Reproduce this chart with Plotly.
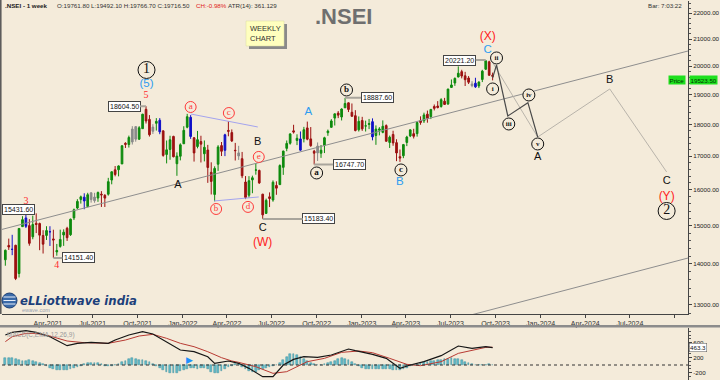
import plotly.graph_objects as go
import numpy as np
import pandas as pd

# ---------------- data (weekly .NSEI, week starting Monday) ----------------
first_week = "2021-01-04"
opens = [14104,14474,14371,14477,13759,14973,15209,15000,14702,15064,15056,14736,14737,14837,14644,14306,14449,14748,14928,14756,15211,15484,15726,15791,15525,15915,15794,15766,15877,15842,15875,16286,16589,16592,16765,17400,17363,17443,17932,17531,17867,18500,18168,17783,18041,18141,17796,17055,17210,17619,16773,17000,
         17387,17913,18236,17575,17302,17456,17076,17192,16515,15868,16757,17329,17182,17809,17741,17183,17009,16925,16227,15846,16290,16578,16570,15875,15335,15800,15710,16127,16152,16662,17243,17402,17797,17490,17188,17546,17891,17540,17156,17102,17094,17336,17737,17910,18211,18376,18247,18552,18719,18402,18289,17831,
         18132,17953,18005,18094,17649,17819,17748,17965,17428,17681,17422,16986,17016,17428,17634,17706,17707,18125,18120,18339,18258,18594,18612,18595,18774,18682,19246,19400,19612,19801,19654,19576,19365,19393,19298,19525,19890,20156,19678]
highs = [14367,14653,14754,14491,14932,15257,15431.6,15176,15273,15336,15082,14878,14984,14984,14890,14513,14891,14900,14968,15190,15469,15733,15835,15901,15915,15925,15915,15952,15962,15877,16350,16543,16702,16722,17340,17436,17644,17947,17944,17948,18351,18604.5,18310,18012,18210,18210,17806,17489,17640,17640,17119,17400,
         17945,18350,18309,17599,17794,17640,17490,17352,16815,16694,17344,17442,17703,18114,17842,17414,17322,17132,16403,16400,16415,16794,16594,15886,15749,15927,16275,16248,16752,17172,17490,17719,17992,17686,17777,17925,18096,17919,17196,17428,17348,17607,17838,18176,18362,18443,18534,18887.6,18734,18697,18473,18265,
         18252,18127,18183,18202,17972,17916,18135,18005,17645,17800,17529,17207,17381,17638,17842,17863,18089,18267,18389,18459,18508,18663,18777,18876,18887,19202,19524,19595,19991,19868,19795,19645,19465,19584,19458,19868,20221.2,20196,19767]
lows = [13954,14357,14222,13597,13661,14969,14935,14467,14636,14800,14350,14264,14617,14460,14151.4,14208,14416,14462,14591,14725,15152,15450,15608,15451,15506,15635,15632,15658,15514,15513,15834,16161,16395,16395,16764,17255,17269,17362,17452,17506,17864,18034,17614,17697,17806,17689,16985,16782,16891,16966,16410,16873,
        17384,17879,17541,16837,17244,16810,16843,16203,15867,15671,16556,17006,17004,17623,17443,16869,16888,16341,15735,15775,15903,16444,16172,15183.4,15330,15511,15661,15858,16142,16438,17154,17359,17710,17345,17167,17429,17497,17291,16747.7,16855,16950,17098,17637,17900,17969,18210,18133,18545,18410,18255,17779,17775,
        17796,17775,17853,17494,17353,17652,17719,17456,17255,17324,16850,16828,16941,17313,17597,17553,17612,17993,18052,18060,18178,18464,18531,18556,18647,18647,19234,19301,19600,19563,19296,19365,19253,19230,19224,19433,19865,19657,19492]
closes = [14347,14433,14372,13635,14924,15163,14982,14529,15031,15031,14744,14507,14867,14834,14617,14341,14631,14823,14677,15175,15435,15670,15799,15683,15860,15722,15690,15923,15856,15763,16238,16529,16450,16705,17324,17369,17585,17853,17532,17895,18339,18115,17672,17917,18103,17765,17026,17197,17512,16985,17004,17354,
          17813,18256,17617,17102,17516,17375,17276,16658,16245,16630,17287,17153,17670,17784,17476,17172,17103,16411,15782,16266,16352,16584,16202,15294,15699,15752,16221,16049,16719,17158,17398,17698,17758,17559,17539,17833,17531,17327,17094,17315,17186,17576,17787,18117,18350,18308,18512,18697,18497,18270,17807,18105,
          17860,17956,18028,17604,17854,17856,17944,17466,17594,17413,17100,16945,17360,17599,17828,17624,18065,18069,18315,18203,18499,18534,18563,18826,18665,19189,19332,19564,19745,19646,19517,19428,19310,19266,19435,19820,20192,19674,19638]
blue_weeks = ["2021-01-18","2021-02-15","2021-04-05","2021-06-14","2021-11-15","2022-01-17","2022-03-28","2022-08-29","2023-01-23","2023-08-21"]
gray_weeks = ["2021-06-28","2021-07-05","2021-09-20","2021-09-27","2021-11-01","2022-04-25","2022-10-03","2023-08-14"]

# MACD panel
macd_dates = ['2021-01-04','2021-01-18','2021-02-15','2021-03-08','2021-04-05','2021-05-10','2021-05-31','2021-06-28','2021-08-02','2021-08-16','2021-09-13','2021-10-11','2021-11-01','2021-11-22','2021-12-13','2021-12-27','2022-01-24','2022-02-21','2022-03-07','2022-04-04','2022-04-25','2022-05-16','2022-06-13','2022-07-04','2022-07-25','2022-08-15','2022-09-05','2022-10-03','2022-10-31','2022-12-05','2022-12-19','2023-01-23','2023-02-20','2023-03-20','2023-04-10','2023-05-08','2023-06-12','2023-07-17','2023-08-14','2023-09-11','2023-09-25']
macd_vals = [801,873,916,873,756,516,579,606,579,667,801,889,828,667,489,400,355,222,45,107,45,-89,-312,-312,0,151,222,205,267,427,382,285,178,-89,0,89,249,507,445,489,463]
signal_dates = ['2021-01-04','2021-01-18','2021-02-15','2021-03-08','2021-04-05','2021-05-10','2021-06-14','2021-08-02','2021-09-06','2021-10-04','2021-11-01','2021-11-29','2021-12-27','2022-01-24','2022-02-21','2022-03-21','2022-04-11','2022-04-25','2022-05-30','2022-07-04','2022-08-01','2022-09-12','2022-10-17','2022-11-21','2022-12-26','2023-01-23','2023-02-27','2023-04-03','2023-05-01','2023-06-12','2023-07-17','2023-08-28','2023-09-11','2023-09-25']
signal_vals = [623,756,845,845,774,641,596,579,667,774,819,712,579,489,355,196,107,71,-45,-222,-178,89,178,338,374,329,178,18,-18,89,311,445,471,475]
hist_vals = [187,200,187,160,134,107,107,134,107,80,53,27,
             -27,-67,-93,-120,-134,-134,-134,-107,-80,-40,-13,
             27,53,67,67,53,27,
             -13,-27,-13,0,
             40,80,120,160,179,160,134,134,120,80,40,
             -27,-80,-134,-174,-200,-214,-200,-160,-134,-93,-80,
             -80,-93,-80,-80,-107,
             -187,-214,-200,-160,-107,
             -53,-13,27,40,
             -53,-107,-147,-174,-174,-134,-93,-80,
             -53,-27,0,
             53,134,214,294,307,267,214,160,107,
             53,27,13,13,
             27,53,80,
             120,160,179,174,134,80,
             27,-27,
             -67,-93,-107,-107,-107,-93,-93,-93,-107,-120,-134,
             -134,-107,-67,
             -27,13,40,67,80,93,107,120,134,147,160,174,179,174,160,134,93,53,27,13,
             8,8,13,27,13]

# trend / channel lines and projected path (date, price)
upper_line_dates = ["2020-12-28", "2024-10-28"]
upper_line_vals = [14897, 20555]
lower_line_dates = ["2023-08-10", "2024-10-28"]
lower_line_vals = [12762, 14150]
tri_top_dates = ["2022-01-17", "2022-06-03"]
tri_top_vals = [18346, 17921]
tri_bot_dates = ["2022-03-06", "2022-06-05"]
tri_bot_vals = [15682, 15796]
sub_path_dates = ["2023-09-25", "2023-10-03", "2023-10-26", "2023-12-06", "2023-12-26"]
sub_path_vals = [19579, 20042, 18280, 18724, 17600]
proj_path_dates = ["2023-09-24", "2023-12-26", "2024-05-21", "2024-09-14"]
proj_path_vals = [20161, 17600, 19193, 16525]

# price call-outs
callout_dates = ["2021-10-18", "2021-02-15", "2021-04-12", "2022-06-13", "2022-09-26", "2022-11-28", "2023-09-11"]
callout_vals = [18604.50, 15431.60, 14151.40, 15183.40, 16747.70, 18887.60, 20221.20]

# wave labels
blk_txt = ["A", "B", "C", "A", "B", "C"]
blk_dates = ["2021-12-22", "2022-06-03", "2022-06-13", "2023-12-26", "2024-05-21", "2024-09-14"]
blk_vals = [16141, 17444, 14938, 16978, 19508, 16258]
blu_txt = ["(5)", "A", "B", "C"]
blu_dates = ["2021-10-19", "2022-09-14", "2023-03-20", "2023-09-15"]
blu_vals = [19367, 18414, 16229, 20591]
red_txt = ["(W)", "(X)", "(Y)"]
red_dates = ["2022-06-13", "2023-09-15", "2024-09-14"]
red_vals = [14537, 21080, 15796]
red_num_txt = ["3", "4", "5"]
red_num_dates = ["2021-02-15", "2021-04-19", "2021-10-18"]
red_num_vals = [15655, 13948, 18953]
redc_txt = ["a", "b", "c", "d", "e"]
redc_dates = ["2022-01-17", "2022-03-10", "2022-04-05", "2022-05-14", "2022-06-05"]
redc_vals = [18579, 15457, 18378, 15515, 16978]
blkc_txt = ["a", "b", "c"]
blkc_dates = ["2022-10-01", "2022-12-01", "2023-03-22"]
blkc_vals = [16495, 19158, 16584]
rom_txt = ["i", "ii", "iii", "iv", "v"]
rom_dates = ["2023-09-25", "2023-10-03", "2023-10-28", "2023-12-08", "2023-12-26"]
rom_vals = [19193, 20297, 18018, 18986, 17380]
big_txt = ["1", "2"]
big_dates = ["2021-10-19", "2024-09-14"]
big_vals = [19862, 15402]

last_price = 19523.50
macd_last = 463.3
yticks_main = [13000, 14000, 15000, 16000, 17000, 18000, 19000, 20000, 21000, 22000]
yticks_macd = [600, 200, -200]
xtick_dates = ["2021-04-01","2021-07-01","2021-10-01","2022-01-01","2022-04-01","2022-07-01","2022-10-01",
               "2023-01-01","2023-04-01","2023-07-01","2023-10-01","2024-01-01","2024-04-01","2024-07-01","2024-10-01"]
xtick_text = ["Apr-2021","Jul-2021","Oct-2021","Jan-2022","Apr-2022","Jul-2022","Oct-2022",
              "Jan-2023","Apr-2023","Jul-2023","Oct-2023","Jan-2024","Apr-2024","Jul-2024",""]

# ---------------- styling / layout ----------------
BG = "#f4ebda"
UP, DN = "#0d8a0d", "#9c1010"
W, H = 720, 380
ML, MR = 2, 32
PW = W - ML - MR
SANS = "Liberation Sans, Arial, sans-serif"
SERIF = "Liberation Serif, Times New Roman, serif"


def px(x):
    return (x - ML) / PW


def py(y):
    return (H - y) / H


dates = pd.date_range(first_week, periods=len(closes), freq="7D")
df = pd.DataFrame({"d": dates, "o": opens, "h": highs, "l": lows, "c": closes})
ds = df["d"].dt.strftime("%Y-%m-%d")
is_blue = ds.isin(blue_weeks)
is_gray = ds.isin(gray_weeks)
is_norm = ~(is_blue | is_gray)

fig = go.Figure()


def candles(sub, up, dn):
    return go.Candlestick(
        x=sub["d"], open=sub["o"], high=sub["h"], low=sub["l"], close=sub["c"],
        increasing=dict(line=dict(color=up, width=1), fillcolor=up),
        decreasing=dict(line=dict(color=dn, width=1), fillcolor=dn),
        whiskerwidth=0, showlegend=False, hoverinfo="skip", xaxis="x", yaxis="y")


def line(xs, ys, color, width, xa="x", ya="y"):
    return go.Scatter(x=xs, y=ys, mode="lines", line=dict(color=color, width=width),
                      showlegend=False, hoverinfo="skip", xaxis=xa, yaxis=ya)


# trend lines first (under candles)
fig.add_trace(line(upper_line_dates, upper_line_vals, "#8e8e8e", 1))
fig.add_trace(line(lower_line_dates, lower_line_vals, "#8e8e8e", 1))
fig.add_trace(line(tri_top_dates, tri_top_vals, "#a3a3ee", 1))
fig.add_trace(line(tri_bot_dates, tri_bot_vals, "#a3a3ee", 1))
fig.add_trace(line(proj_path_dates, proj_path_vals, "#b9b4ab", 1))
fig.add_trace(line(sub_path_dates, sub_path_vals, "#4a4a4a", 1.2))

fig.add_trace(candles(df[is_norm], UP, DN))
fig.add_trace(candles(df[is_blue], "#1010c8", "#1010c8"))
fig.add_trace(candles(df[is_gray], "#8a8a8a", "#8a8a8a"))

# MACD panel
fig.add_trace(go.Bar(x=dates, y=hist_vals, width=3.6 * 86400000, marker=dict(color="#62bccb", line=dict(color="#3b8c9b", width=0.5)),
                     showlegend=False, hoverinfo="skip", xaxis="x2", yaxis="y2"))
fig.add_trace(line(signal_dates, signal_vals, "#b83a32", 1, "x2", "y2"))
fig.add_trace(line(macd_dates, macd_vals, "#151515", 1.2, "x2", "y2"))


def text_tr(xs, ys, txt, color, size, family):
    return go.Scatter(x=xs, y=ys, mode="text", text=txt, textposition="middle center",
                      textfont=dict(color=color, size=size, family=family), cliponaxis=False,
                      showlegend=False, hoverinfo="skip", xaxis="x", yaxis="y")


def circ_tr(xs, ys, txt, color, msize, tsize, bold=False):
    t = [f"<b>{s}</b>" for s in txt] if bold else txt
    return go.Scatter(x=xs, y=ys, mode="markers+text", text=t, textposition="middle center",
                      marker=dict(symbol="circle", size=msize, color=BG, line=dict(color=color, width=1)),
                      textfont=dict(color=color, size=tsize, family=SERIF), cliponaxis=False,
                      showlegend=False, hoverinfo="skip", xaxis="x", yaxis="y")


fig.add_trace(text_tr(blk_dates, blk_vals, blk_txt, "#111111", 11, SANS))
fig.add_trace(text_tr(blu_dates, blu_vals, blu_txt, "#2e9cf0", 11.5, SANS))
fig.add_trace(text_tr(red_dates, red_vals, red_txt, "#ff1c1c", 12, SANS))
fig.add_trace(text_tr(red_num_dates, red_num_vals, red_num_txt, "#ff2a2a", 10, SERIF))
fig.add_trace(circ_tr(redc_dates, redc_vals, redc_txt, "#ff3a3a", 11, 9))
fig.add_trace(circ_tr(blkc_dates, blkc_vals, blkc_txt, "#111111", 12, 9, True))
fig.add_trace(circ_tr(rom_dates, rom_vals, rom_txt, "#111111", 12, 7, True))
fig.add_trace(circ_tr(big_dates, big_vals, big_txt, "#111111", 17, 14))

ann = []
# price call-outs
callout_dx = [-22, -7, 25, 56, 35, 32, -26]
for d, v, dx in zip(callout_dates, callout_vals, callout_dx):
    ann.append(dict(x=d, y=np.log10(v), xref="x", yref="y", text=f"{v:.2f}", showarrow=True,
                    arrowhead=0, arrowwidth=2, arrowcolor="#a9a59c", ax=dx, ay=0, standoff=0,
                    font=dict(size=7, color="#111", family=SANS), bgcolor="white",
                    bordercolor="#444", borderwidth=1, borderpad=1))

HF = 6.2
# header texts
ann += [
    dict(x=px(3), y=py(5.5), xref="paper", yref="paper", xanchor="left", yanchor="middle", showarrow=False,
         text="<b>.NSEI - 1 week</b>", font=dict(size=HF, color="#222", family=SANS)),
    dict(x=px(55), y=py(5.5), xref="paper", yref="paper", xanchor="left", yanchor="middle", showarrow=False,
         text="O:19761.80 L:19492.10 H:19766.70 C:19716.50",
         font=dict(size=HF, color="#333", family=SANS)),
    dict(x=px(194), y=py(5.5), xref="paper", yref="paper", xanchor="left", yanchor="middle", showarrow=False,
         text="CH:-0.98%", font=dict(size=HF, color="#e02020", family=SANS)),
    dict(x=px(226), y=py(5.5), xref="paper", yref="paper", xanchor="left", yanchor="middle", showarrow=False,
         text="ATR(14): 361.129", font=dict(size=HF, color="#333", family=SANS)),
    dict(x=px(684), y=py(5.5), xref="paper", yref="paper", xanchor="right", yanchor="middle", showarrow=False,
         text="Bar: 7:03:22", font=dict(size=HF, color="#333", family=SANS)),
    dict(x=px(343), y=py(16), xref="paper", yref="paper", xanchor="center", yanchor="middle", showarrow=False,
         text="<b>.NSEI</b>", font=dict(size=22, color="#6f6f6f", family=SANS)),
    dict(x=px(248), y=py(33.5), xref="paper", yref="paper", xanchor="left", yanchor="middle", showarrow=False,
         align="left", text="WEEKLY<br>CHART", font=dict(size=7.5, color="#333", family=SANS)),
    # price marker
    dict(x=px(677), y=np.log10(last_price), xref="paper", yref="y", xanchor="center", yanchor="middle",
         showarrow=False, text="Price", font=dict(size=6.2, color="#003300", family=SANS),
         bgcolor="#1ee01e", borderpad=0.5),
    dict(x=px(704), y=np.log10(last_price), xref="paper", yref="y", xanchor="center", yanchor="middle",
         showarrow=False, text=f"{last_price:.2f}", font=dict(size=6.2, color="#003300", family=SANS),
         bgcolor="#1ee01e", borderpad=0.5),
    # MACD bits
    dict(x=px(5), y=py(335), xref="paper", yref="paper", xanchor="left", yanchor="middle", showarrow=False,
         text="MACD(C,EMA,12,26,9)", font=dict(size=6.5, color="#9a9a9a", family=SANS)),
    dict(x=px(698), y=macd_last, xref="paper", yref="y2", xanchor="center", yanchor="middle", showarrow=False,
         text=f"{macd_last:.1f}", font=dict(size=6.2, color="#111", family=SANS), bgcolor="white",
         bordercolor="#555", borderwidth=0.5, borderpad=0.5),
    dict(x=px(190), y=py(359), xref="paper", yref="paper", xanchor="center", yanchor="middle", showarrow=False,
         text="▶", font=dict(size=9, color="#1e90ff")),
    # logo
    dict(x=px(18), y=py(300.5), xref="paper", yref="paper", xanchor="left", yanchor="middle", showarrow=False,
         text="<b><i>eLLiottwave india</i></b>", font=dict(size=11.7, color="#1c3f7a", family="DejaVu Sans")),
    dict(x=px(20), y=py(310), xref="paper", yref="paper", xanchor="left", yanchor="middle", showarrow=False,
         text="ewave.com", font=dict(size=5.5, color="#9aa4b0", family=SANS)),
]

shapes = [
    # left frame of main panel
    dict(type="line", xref="paper", yref="paper", x0=px(0.8), x1=px(0.8), y0=py(314), y1=py(0),
         line=dict(color="#555", width=1.5)),
    # separator band
    dict(type="rect", xref="paper", yref="paper", x0=px(0), x1=px(720), y0=py(327.5), y1=py(325),
         fillcolor="#8c8c8c", line=dict(width=0)),
    # MACD zero line
    dict(type="line", xref="x2 domain", yref="y2", x0=0, x1=1, y0=0, y1=0,
         line=dict(color="#333", width=1, dash="dot")),
    # WEEKLY CHART note
    dict(type="rect", xref="paper", yref="paper", x0=px(249), x1=px(287), y0=py(49), y1=py(24),
         fillcolor="#8a8a8a", line=dict(width=0)),
    dict(type="rect", xref="paper", yref="paper", x0=px(246), x1=px(284), y0=py(46), y1=py(21),
         fillcolor="#ffffbe", line=dict(color="#d8d8a0", width=0.5)),
    # logo globe
    dict(type="circle", xref="paper", yref="paper", x0=px(2), x1=px(17), y0=py(308), y1=py(293),
         fillcolor="#3a6aa8", line=dict(color="#1e3f73", width=1)),
]
for yy in (297, 300.5, 304):
    shapes.append(dict(type="line", xref="paper", yref="paper", x0=px(3.5), x1=px(15.5), y0=py(yy), y1=py(yy),
                       line=dict(color="#e8eef8", width=1)))

minor_main = [v for v in range(12800, 22600, 200) if v % 1000 != 0]

fig.update_layout(
    width=W, height=H, margin=dict(l=ML, r=MR, t=0, b=0, pad=0),
    paper_bgcolor=BG, plot_bgcolor=BG, hovermode=False, showlegend=False, boxgap=0.3,
    xaxis=dict(domain=[0, 1], anchor="y", type="date", range=["2020-12-28 05:00", "2024-10-27 14:00"],
               tickmode="array", tickvals=xtick_dates, ticktext=xtick_text, ticks="outside", ticklen=3,
               tickcolor="#444", showline=True, linecolor="#444", linewidth=1, showgrid=False, zeroline=False,
               tickfont=dict(size=7, color="#333", family=SANS), rangeslider=dict(visible=False), automargin=False),
    yaxis=dict(domain=[py(314), py(1)], anchor="x", type="log", range=[np.log10(12790), np.log10(22493)],
               side="right", tickmode="array", tickvals=yticks_main, ticktext=[f"{v:.2f}" for v in yticks_main],
               ticks="outside", ticklen=3, tickcolor="#444", showline=True, linecolor="#444", linewidth=1,
               showgrid=False, zeroline=False, tickfont=dict(size=6.2, color="#222", family=SANS),
               minor=dict(tickmode="array", tickvals=minor_main, ticks="outside", ticklen=2, tickcolor="#555"),
               automargin=False),
    xaxis2=dict(domain=[0, 1], anchor="y2", type="date", matches="x", showticklabels=False, ticks="",
                showline=False, showgrid=False, zeroline=False, automargin=False),
    yaxis2=dict(domain=[0, py(328)], anchor="x2", range=[-400, 988], side="right", tickmode="array",
                tickvals=yticks_macd, ticktext=[str(v) for v in yticks_macd], ticks="outside", ticklen=3,
                tickcolor="#444", showline=True, linecolor="#444", linewidth=1, showgrid=False, zeroline=False,
                tickfont=dict(size=6.2, color="#222", family=SANS),
                minor=dict(tickmode="array", tickvals=list(range(-400, 1000, 100)), ticks="outside", ticklen=2,
                           tickcolor="#555"),
                automargin=False),
    annotations=ann, shapes=shapes, bargap=0,
)

fig.write_html("out.html", config={"displayModeBar": False},
               post_script="document.body.style.margin='0';document.body.style.background='" + BG + "';")
